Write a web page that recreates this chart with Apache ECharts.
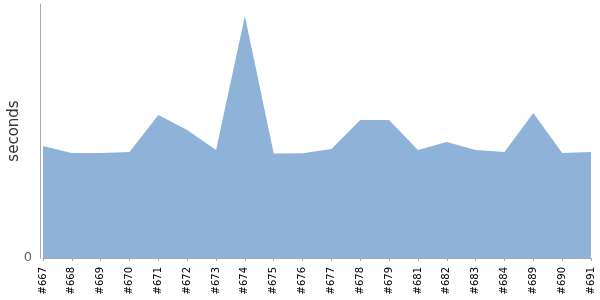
<!DOCTYPE html>
<html><head><meta charset="utf-8">
<script src="https://cdn.jsdelivr.net/npm/echarts@6/dist/echarts.min.js"></script>
<style>html,body{margin:0;padding:0;background:#fff}#c{width:600px;height:300px}</style>
</head><body><div id="c"></div>
<script>
const categories = ['#667','#668','#669','#670','#671','#672','#673','#674','#675','#676','#677','#678','#679','#681','#682','#683','#684','#689','#690','#691'];
const seconds = [112,105,105,106,143,128,108,242,104.5,104.7,109,138,138,108,116,108,106,145,105,106];
const yMax = 254;
const chart = echarts.init(document.getElementById('c'), null, {renderer:'canvas'});
chart.setOption({
  animation:false,
  grid:{left:43,right:9,top:4,bottom:42,containLabel:false,outerBoundsMode:'none'},
  xAxis:{type:'category',data:categories,boundaryGap:false,offset:5,
    axisLine:{lineStyle:{color:'#aaa'}},
    axisTick:{show:true,length:3,lineStyle:{color:'#aaa'}},
    axisLabel:{rotate:90,fontSize:10,color:'#000',fontFamily:'DejaVu Sans',margin:4,interval:0}},
  yAxis:{type:'value',min:0,max:yMax,interval:yMax,offset:3,
    name:'seconds',nameLocation:'middle',nameGap:18,nameMoveOverlap:false,
    nameTextStyle:{fontSize:15,color:'#333',fontFamily:'DejaVu Sans'},
    axisLine:{show:true,lineStyle:{color:'#aaa'}},
    axisTick:{show:false},splitLine:{show:false},
    axisLabel:{fontSize:13,color:'#666',fontFamily:'DejaVu Sans',margin:8,formatter:v=>v===0?'0':''}},
  series:[{type:'line',data:seconds,symbol:'none',lineStyle:{width:0},
    areaStyle:{color:'#8fb2d9',opacity:1}}]
});
</script></body></html>
